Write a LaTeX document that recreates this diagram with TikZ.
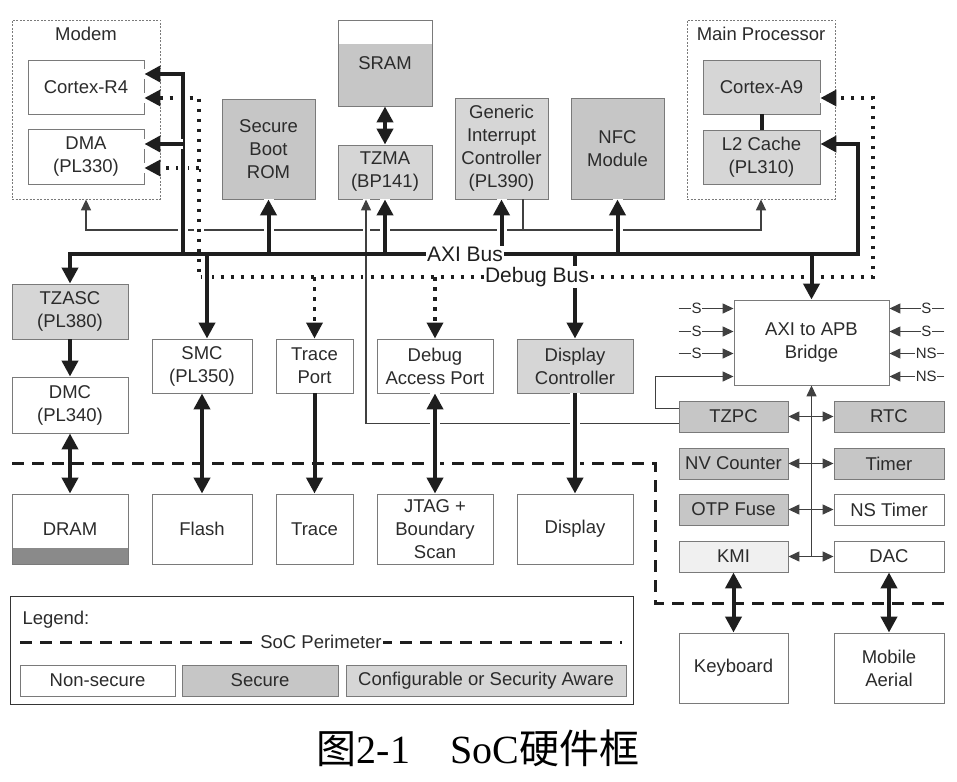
\documentclass[tikz,border=0pt]{standalone}
\usepackage{fontspec}
\setmainfont{Liberation Sans}
\newfontfamily\capfont{Liberation Serif}
\newfontfamily\cjk{Noto Sans CJK SC}
\usetikzlibrary{arrows.meta}

\definecolor{ink}{HTML}{1E1E1E}
\definecolor{bord}{HTML}{7A7A7A}
\definecolor{txt}{HTML}{2B2B2B}
\definecolor{secgray}{HTML}{C6C6C6}
\definecolor{cfggray}{HTML}{D6D6D6}
\definecolor{kmigray}{HTML}{F0F0F0}
\definecolor{strip}{HTML}{8A8A8A}

\newcommand\boxfont{\fontsize{18.5}{23}\selectfont}
\newcommand\busfont{\fontsize{21}{24}\selectfont}
\newcommand\sigfont{\fontsize{15}{17}\selectfont}

\tikzset{
  bigtip/.tip={Triangle[length=16pt,width=16pt]},
  smalltip/.tip={Triangle[length=11pt,width=10pt]},
  blk/.style={draw=bord, line width=0.9pt, text=txt, align=center, inner sep=0pt, font=\boxfont},
  sz/.style 2 args={minimum width=#1pt, minimum height=#2pt},
  sec/.style={fill=secgray},
  cfg/.style={fill=cfggray},
  grp/.style={draw=bord, line width=0.8pt, dash pattern=on 2pt off 1.5pt},
  bus/.style={draw=ink, line width=4pt, >=bigtip},
  dbg/.style={draw=ink, line width=3.5pt, dash pattern=on 3.5pt off 6.5pt, >=bigtip},
  wire/.style={draw=ink!85, line width=1.4pt, >=smalltip},
  halo/.style={preaction={draw=white, line width=10pt, solid, arrows=-}},
  thinhalo/.style={preaction={draw=white, line width=7pt, solid, arrows=-}},
  perim/.style={draw=ink, line width=3pt, dash pattern=on 12pt off 8pt},
  sig/.style={fill=white, inner sep=0.5pt, text=txt, font=\sigfont},
  buslbl/.style={fill=white, inner sep=1pt, text=ink, font=\busfont},
}

\begin{document}
\begin{tikzpicture}[x=1pt,y=-1pt]
  \useasboundingbox (0,0) rectangle (957,781);

  % processor groups
  \node[grp,sz={148}{179}] (modem) at (86,109.5) {};
  \node[text=txt,font=\boxfont] (modemlbl) at ([yshift=-14pt]modem.north) {Modem};
  \node[grp,sz={148}{179}] (mainp) at (761,109.5) {};
  \node[text=txt,font=\boxfont] (mainlbl) at ([yshift=-14pt]mainp.north) {Main Processor};

  % top row
  \node[blk,sz={116}{54}] (r4) at (86,87) {Cortex-R4};
  \node[blk,sz={116}{55}] (dma) at (86,156.5) {DMA\\(PL330)};
  \node[blk,sec,sz={93}{100}] (rom) at (268.5,149) {Secure\\Boot\\ROM};
  \node[blk,sec,sz={94}{86},path picture={\fill[white] (path picture bounding box.north west) rectangle ([yshift=-24pt]path picture bounding box.north east);}] (sram) at (385,63) {SRAM};
  \node[blk,cfg,sz={94}{54}] (tzma) at (385,172) {TZMA\\(BP141)};
  \node[blk,cfg,sz={93}{101}] (gic) at (501.5,148.5) {Generic\\Interrupt\\Controller\\(PL390)};
  \node[blk,sec,sz={93}{101}] (nfc) at (617.5,148.5) {NFC\\Module};
  \node[blk,cfg,sz={117}{54}] (a9) at (761.5,87) {Cortex-A9};
  \node[blk,cfg,sz={117}{54}] (l2) at (761.5,157) {L2 Cache\\(PL310)};

  % middle row
  \node[blk,cfg,sz={116}{55}] (tzasc) at (70,311.5) {TZASC\\(PL380)};
  \node[blk,sz={116}{56}] (dmc) at (70,405) {DMC\\(PL340)};
  \node[blk,sz={100}{54}] (smc) at (202,366) {SMC\\(PL350)};
  \node[blk,sz={77}{54}] (trport) at (314.5,366) {Trace\\Port};
  \node[blk,sz={116}{54}] (dap) at (435,366) {Debug\\Access Port};
  \node[blk,cfg,sz={116}{54}] (dispc) at (575,366) {Display\\Controller};
  \node[blk,sz={155}{85}] (bridge) at (811.5,342.5) {AXI to APB\\Bridge};

  % off-chip
  \node[blk,sz={116}{70},path picture={\fill[strip] (path picture bounding box.south west) rectangle ([yshift=16pt]path picture bounding box.south east);}] (dram) at (70,529) {DRAM};
  \node[blk,sz={100}{70}] (flash) at (202,529) {Flash};
  \node[blk,sz={77}{70}] (trace) at (314.5,529) {Trace};
  \node[blk,sz={116}{70}] (jtag) at (435,529) {JTAG +\\Boundary\\Scan};
  \node[blk,sz={116}{70}] (disp) at (575,529) {Display};

  % APB peripherals
  \node[blk,sec,sz={109}{31}] (tzpc) at (733.5,416.5) {TZPC};
  \node[blk,sec,sz={110}{31}] (rtc) at (889,416.5) {RTC};
  \node[blk,sec,sz={109}{31}] (nvc) at (733.5,463.5) {NV Counter};
  \node[blk,sec,sz={110}{31}] (timer) at (889,463.5) {Timer};
  \node[blk,sec,sz={109}{31}] (otp) at (733.5,509.5) {OTP Fuse};
  \node[blk,sz={110}{31}] (nstimer) at (889,509.5) {NS Timer};
  \node[blk,fill=kmigray,sz={109}{31}] (kmi) at (733.5,556.5) {KMI};
  \node[blk,sz={110}{31}] (dac) at (889,556.5) {DAC};
  \node[blk,sz={109}{70}] (kbd) at (733.5,668) {Keyboard};
  \node[blk,sz={110}{70}] (aerial) at (889,668) {Mobile\\Aerial};

  \coordinate (axiE) at (858,254);
  \coordinate (dbgW) at (199,277);
  \coordinate (dbgE) at (873,277);
  \coordinate (irqY) at (0,230);
  \coordinate (mdm) at (183,254);
  \coordinate (r4A) at ([yshift=13pt]r4.east);
  \coordinate (dmaA) at ([yshift=12.5pt]dma.east);
  \coordinate (r4D) at ([yshift=-11pt]r4.east);
  \coordinate (dmaD) at ([yshift=-11.5pt]dma.east);
  \coordinate (a9D) at ([yshift=-11pt]a9.east);
  \coordinate (l2A) at ([yshift=13pt]l2.east);
  \coordinate (gicI) at ([xshift=21.5pt]gic.south);
  \coordinate (smcA) at ([xshift=5pt]smc.north);
  \coordinate (tzpcA) at ([yshift=-7pt]tzpc.west);
  \coordinate (tzmaA) at ([xshift=-19pt]tzma.south);
  \coordinate (tzpcB) at ([yshift=8pt]tzpc.west);
  \coordinate (brgB) at ([yshift=-34pt]bridge.west);

  % SoC perimeter
  \draw[perim] (12,463) -- (655,463) -- (655,603) -- (945,603);

  % interrupt line
  \draw[wire,<->] (modem.south) -- (modem.south |- irqY) -- (mainp.south |- irqY) -- (mainp.south);
  \draw[wire] (gicI) -- (gicI |- irqY);

  % debug bus
  \draw[dbg,halo,<->] (r4D) -| (dbgW) -- (dbgE) |- (a9D);
  \draw[dbg,halo,->] (dmaD -| dbgW) -- (dmaD);
  \draw[dbg,->] (trport.north |- dbgW) -- (trport.north);
  \draw[dbg,->] (dap.north |- dbgW) -- (dap.north);

  % TZPC and APB side
  \draw[wire,thinhalo,->] (tzpcA) -| (tzmaA);
  \draw[wire,->] (tzpcB) -- ++(-23,0) |- (brgB);
  \foreach \dy in {34,11,-11}
    \draw[wire,->] ([shift={(-55pt,\dy pt)}]bridge.west) -- node[sig,pos=0.33]{S} ([yshift=\dy pt]bridge.west);
  \foreach \dy/\t in {34/S,11/S,-11/NS,-34/NS}
    \draw[wire,->] ([shift={(55pt,\dy pt)}]bridge.east) -- node[sig,pos=0.33]{\t} ([yshift=\dy pt]bridge.east);
  \draw[wire,->] (kmi.east -| bridge.south) -- (bridge.south);
  \foreach \a/\b in {tzpc/rtc,nvc/timer,otp/nstimer,kmi/dac}
    \draw[wire,<->] (\a.east) -- (\b.west);

  % AXI branches
  \draw[bus,halo,->] (mdm) |- (r4A);
  \draw[bus,halo,->] (dmaA -| mdm) -- (dmaA);
  \draw[bus,halo,->] (rom.south |- axiE) -- (rom.south);
  \draw[bus,halo,->] (tzma.south |- axiE) -- (tzma.south);
  \draw[bus,halo,->] (gic.south |- axiE) -- (gic.south);
  \draw[bus,halo,->] (nfc.south |- axiE) -- (nfc.south);
  \draw[bus,halo,->] (smcA |- axiE) -- (smcA);
  \draw[bus,halo,->] (dispc.north |- axiE) -- (dispc.north);
  \draw[bus,halo,->] (bridge.north |- axiE) -- (bridge.north);

  \draw[bus,<->] (sram.south) -- (tzma.north);
  \draw[bus] (a9.south) -- (l2.north);
  \draw[bus,->] (tzasc.south) -- (dmc.north);
  \draw[bus,<->] (dmc.south) -- (dram.north);
  \draw[bus,<->] (smc.south) -- (flash.north);
  \draw[bus,->] (trport.south) -- (trace.north);
  \draw[bus,halo,<->] (dap.south) -- (jtag.north);
  \draw[bus,halo,->] (dispc.south) -- (disp.north);
  \draw[bus,<->] (kmi.south) -- (kbd.north);
  \draw[bus,<->] (dac.south) -- (aerial.north);

  % AXI bus
  \draw[bus,<->] (tzasc.north) |- (axiE) |- (l2A);
  \node[buslbl] (axilbl) at (465,254) {AXI Bus};
  \node[buslbl] (dbglbl) at (537,277) {Debug Bus};

  % legend
  \node[draw=ink!90,line width=1pt,sz={623}{108}] (lgd) at (321.5,650) {};
  \node[anchor=west,text=txt,font=\boxfont] (lgdtitle) at (19,620) {Legend:};
  \draw[perim] (20,642) -- node[fill=white,inner sep=1pt,text=txt,font=\boxfont]{SoC Perimeter} (622,642);
  \node[blk,sz={155}{31}] (lgns) at (97.5,680.5) {Non-secure};
  \node[blk,sec,sz={156}{31}] (lgsec) at (260,680.5) {Secure};
  \node[blk,cfg,sz={280}{31}] (lgcfg) at (486,680.5) {Configurable or Security Aware};

  \node[font=\capfont\fontsize{40}{44}\selectfont] (cap) at (478,748) {{\cjk 图}2-1\quad SoC{\cjk 硬件框}};
\end{tikzpicture}
\end{document}
